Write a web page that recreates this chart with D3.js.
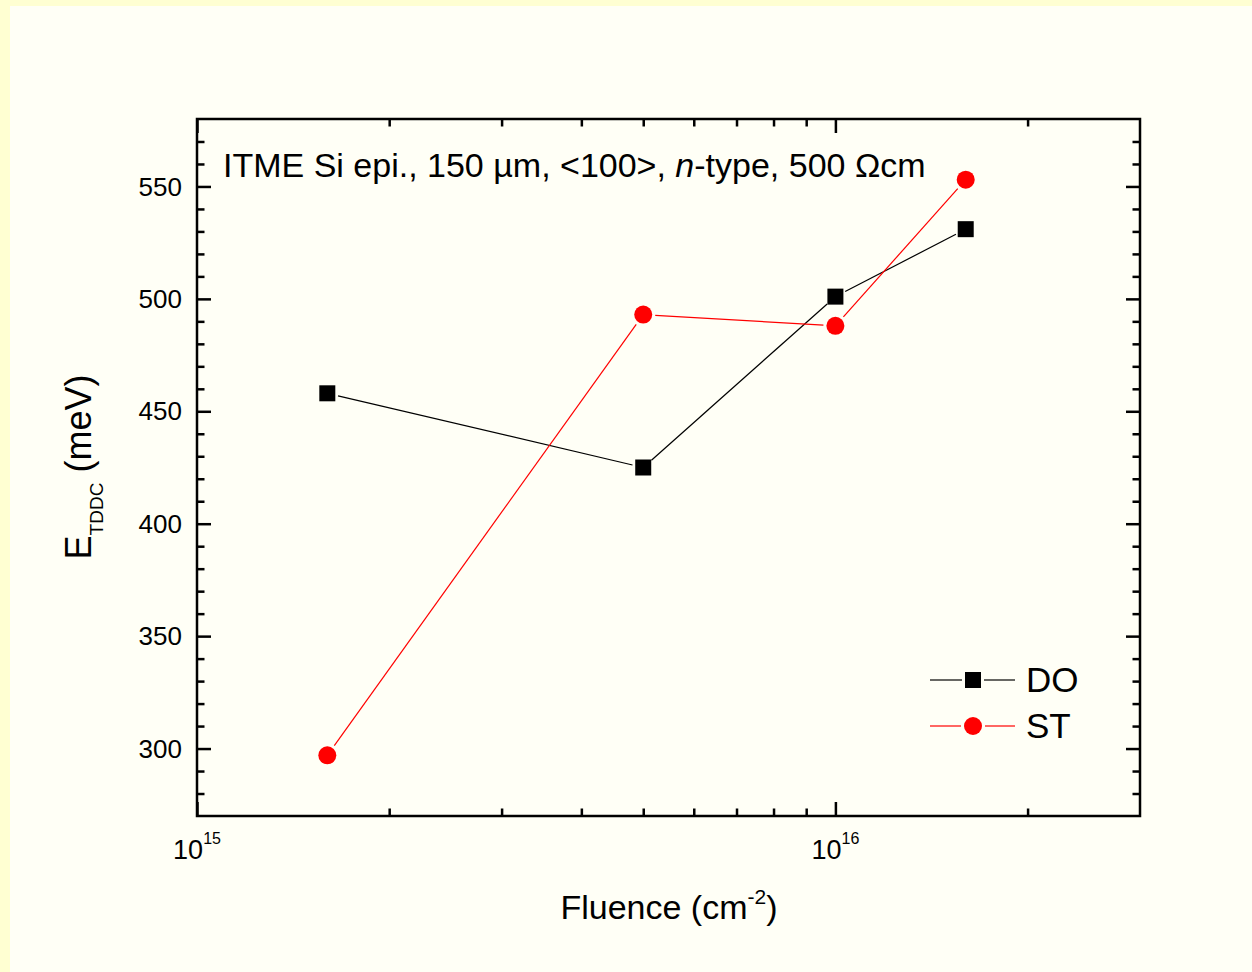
<!DOCTYPE html>
<html>
<head>
<meta charset="utf-8">
<script src="https://cdn.jsdelivr.net/npm/d3@7"></script>
<style>
  html, body { margin: 0; padding: 0; background: #FFFFF6; }
  svg { display: block; }
  text { font-family: "Liberation Sans", Arial, sans-serif; fill: #000; }
</style>
</head>
<body>
<svg id="chart" width="1252" height="972"></svg>
<script>
// Fluence values (cm^-2) and activation energies (meV)
const fluence = [1.6e15, 5e15, 1e16, 1.6e16];
const energyDO = [458, 425, 501, 531];
const energyST = [297, 493, 488, 553];

const seriesNames = ["DO", "ST"];
const seriesColors = ["#000000", "#FF0000"];
const seriesShapes = ["square", "circle"];

const xDomain = [1e15, 3e16];
const yDomain = [270, 580];
const xMajorTicks = [1e15, 1e16];
const xMajorExponents = ["15", "16"];
const xMinorTicks = [2e15, 3e15, 4e15, 5e15, 6e15, 7e15, 8e15, 9e15, 2e16];
const yMajorTicks = [300, 350, 400, 450, 500, 550];
const yMinorTicks = d3.range(280, 580, 10).filter(v => v % 50 !== 0);

const annotation = "ITME Si epi., 150 \u00B5m, <100>, ";
const W = 1252, H = 972;
const plot = { left: 197, right: 1140, top: 119, bottom: 816 };

const svg = d3.select("#chart");

// page background with the pale yellow frame on the left/top
svg.append("rect").attr("width", W).attr("height", H).attr("fill", "#FFFFD2");
svg.append("rect").attr("x", 10).attr("y", 6).attr("width", W - 10).attr("height", H - 6).attr("fill", "#FFFFF6");

const x = d3.scaleLog().domain(xDomain).range([plot.left, plot.right]);
const y = d3.scaleLinear().domain(yDomain).range([plot.bottom, plot.top]);

const MAJ = 14, MIN = 7.5, AXW = 2.5;

function styleAxis(g) {
  g.select(".domain").remove();
  g.selectAll(".tick line").attr("stroke", "#000").attr("stroke-width", AXW);
  g.selectAll(".tick text").remove();
}

// bottom / top axes (ticks pointing inward)
[[d3.axisBottom, plot.bottom], [d3.axisTop, plot.top]].forEach(([axisFn, pos]) => {
  svg.append("g").attr("transform", `translate(0,${pos})`)
    .call(axisFn(x).tickValues(xMajorTicks).tickSize(-MAJ).tickFormat(""))
    .call(styleAxis);
  svg.append("g").attr("transform", `translate(0,${pos})`)
    .call(axisFn(x).tickValues(xMinorTicks).tickSize(-MIN).tickFormat(""))
    .call(styleAxis);
});

// left / right axes
[[d3.axisLeft, plot.left], [d3.axisRight, plot.right]].forEach(([axisFn, pos]) => {
  svg.append("g").attr("transform", `translate(${pos},0)`)
    .call(axisFn(y).tickValues(yMajorTicks).tickSize(-MAJ).tickFormat(""))
    .call(styleAxis);
  svg.append("g").attr("transform", `translate(${pos},0)`)
    .call(axisFn(y).tickValues(yMinorTicks).tickSize(-MIN).tickFormat(""))
    .call(styleAxis);
});

// frame
svg.append("rect")
  .attr("x", plot.left).attr("y", plot.top)
  .attr("width", plot.right - plot.left).attr("height", plot.bottom - plot.top)
  .attr("fill", "none").attr("stroke", "#000").attr("stroke-width", AXW);

// y tick labels
svg.append("g").selectAll("text").data(yMajorTicks).join("text")
  .attr("x", plot.left - 15).attr("y", d => y(d)).attr("dy", "0.35em")
  .attr("text-anchor", "end").attr("font-size", 26).text(d => d);

// x tick labels 10^n
const xl = svg.append("g").selectAll("text").data(xMajorTicks).join("text")
  .attr("x", d => x(d)).attr("y", 859).attr("text-anchor", "middle").attr("font-size", 27);
xl.append("tspan").text("10");
xl.append("tspan").attr("font-size", 16).attr("dy", -15).text((d, i) => xMajorExponents[i]);

// x axis title
const xt = svg.append("text").attr("x", 669).attr("y", 919).attr("text-anchor", "middle").attr("font-size", 34);
xt.append("tspan").text("Fluence (cm");
xt.append("tspan").attr("font-size", 21).attr("dy", -15).text("-2");
xt.append("tspan").attr("dy", 15).text(")");

// y axis title
const yt = svg.append("text").attr("transform", "translate(91,467) rotate(-90)")
  .attr("text-anchor", "middle").attr("font-size", 36);
yt.append("tspan").text("E");
yt.append("tspan").attr("font-size", 19).attr("dy", 12).text("TDDC");
yt.append("tspan").attr("dy", -12).text(" (meV)");

// annotation
const an = svg.append("text").attr("x", 223).attr("y", 177).attr("font-size", 34);
an.append("tspan").text(annotation);
an.append("tspan").attr("font-style", "italic").text("n");
an.append("tspan").text("-type, 500 \u03A9cm");

// series
const series = [energyDO, energyST];
const markerSize = { square: 16, circle: 18 };

function drawMarker(g, shape, color, cx, cy) {
  const s = markerSize[shape];
  if (shape === "square") {
    g.append("rect").attr("x", cx - s / 2).attr("y", cy - s / 2)
      .attr("width", s).attr("height", s).attr("fill", color);
  } else {
    g.append("circle").attr("cx", cx).attr("cy", cy).attr("r", s / 2).attr("fill", color);
  }
}

series.forEach((vals, si) => {
  const color = seriesColors[si], shape = seriesShapes[si];
  const pts = fluence.map((f, i) => [x(f), y(vals[i])]);
  const gap = markerSize[shape] / 2 + 3;
  const g = svg.append("g");
  // connecting segments stop short of the markers
  for (let i = 0; i < pts.length - 1; i++) {
    const [x0, y0] = pts[i], [x1, y1] = pts[i + 1];
    const len = Math.hypot(x1 - x0, y1 - y0);
    const ux = (x1 - x0) / len, uy = (y1 - y0) / len;
    g.append("line")
      .attr("x1", x0 + ux * gap).attr("y1", y0 + uy * gap)
      .attr("x2", x1 - ux * gap).attr("y2", y1 - uy * gap)
      .attr("stroke", color).attr("stroke-width", 1.2);
  }
  pts.forEach(([cx, cy]) => drawMarker(g, shape, color, cx, cy));
});

// legend
const legend = svg.append("g");
seriesNames.forEach((name, i) => {
  const ly = 680 + i * 46;
  const color = seriesColors[i], shape = seriesShapes[i];
  const gap = markerSize[shape] / 2 + 3;
  legend.append("line").attr("x1", 930).attr("x2", 973 - gap).attr("y1", ly).attr("y2", ly)
    .attr("stroke", color).attr("stroke-width", 1.2);
  legend.append("line").attr("x1", 973 + gap).attr("x2", 1015).attr("y1", ly).attr("y2", ly)
    .attr("stroke", color).attr("stroke-width", 1.2);
  drawMarker(legend, shape, color, 973, ly);
  legend.append("text").attr("x", 1026).attr("y", ly + 12).attr("font-size", 35).text(name);
});
</script>
</body>
</html>
